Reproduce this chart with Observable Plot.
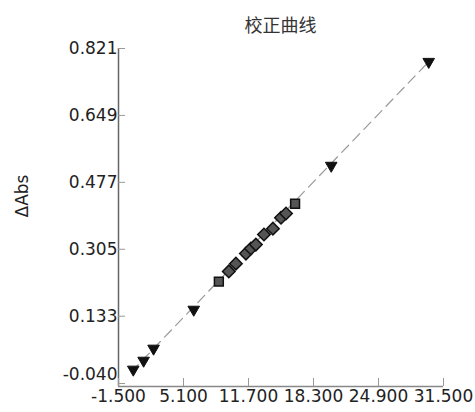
<!DOCTYPE html>
<html>
<head>
<meta charset="utf-8">
<script src="https://cdn.jsdelivr.net/npm/d3@7"></script>
<script src="https://cdn.jsdelivr.net/npm/@observablehq/plot@0.6"></script>
<style>
  html, body { margin: 0; padding: 0; background: #fff; }
  #wrap { width: 475px; height: 412px; position: relative; overflow: hidden; }
  #title { height: 36px; box-sizing: border-box; padding-top: 13px; margin-left: 118px; width: 325px;
           text-align: center; font: 18px/22px "Noto Sans CJK SC", sans-serif; color: #333; }
</style>
</head>
<body>
<div id="wrap">
  <div id="title"></div>
  <div id="chart"></div>
</div>
<script>
const title = "校正曲线";
const yLabel = "ΔAbs";
const xTicks = [-1.5, 5.1, 11.7, 18.3, 24.9, 31.5];
const yTicks = [-0.040, 0.133, 0.305, 0.477, 0.649, 0.821];
const yAxisBottom = -0.0477;

// calibration standards (down triangles)
const triX = [0.0, 1.05, 2.06, 6.14, 20.1, 30.0];
const triY = [-0.004, 0.019, 0.050, 0.150, 0.520, 0.787];

// sample cluster (squares / rotated squares)
const sqX = [8.69, 9.70, 10.42, 11.44, 11.94, 12.45, 13.27, 14.18, 15.0, 15.51, 16.43];
const sqY = [0.222, 0.248, 0.268, 0.294, 0.307, 0.317, 0.343, 0.358, 0.386, 0.397, 0.422];
const sqKind = ["square", "diamond", "diamond", "diamond", "diamond", "diamond", "diamond", "diamond", "diamond", "diamond", "square"];

// fitted line endpoints
const fitX = [-0.2, 30.0];
const fitY = [-0.010, 0.787];

document.getElementById("title").textContent = title;

const tri = triX.map((x, i) => ({x, y: triY[i]}));
const sq = sqX.map((x, i) => ({x, y: sqY[i], kind: sqKind[i]}));
const fit = fitX.map((x, i) => ({x, y: fitY[i]}));

const fmt = d => d3.format(".3f")(d).replace("\u2212", "-");

const chart = Plot.plot({
  width: 475,
  height: 376,
  marginLeft: 118,
  marginRight: 32,
  marginTop: 12,
  marginBottom: 26,
  style: {fontFamily: "DejaVu Sans", fontSize: "17px", color: "#222", background: "#fff"},
  x: {domain: [xTicks[0], xTicks[xTicks.length - 1]], axis: null},
  y: {domain: [yAxisBottom, yTicks[yTicks.length - 1]], axis: null},
  marks: [
    Plot.ruleX([xTicks[0]], {y1: yAxisBottom, y2: yTicks[yTicks.length - 1], stroke: "#666", strokeWidth: 1.5}),
    Plot.ruleY([yAxisBottom], {x1: xTicks[0], x2: xTicks[xTicks.length - 1], stroke: "#888", strokeWidth: 1.5}),
    Plot.axisX(xTicks, {tickSize: -8, tickFormat: () => "", stroke: "#999", label: null}),
    Plot.axisX(xTicks, {tickSize: 0, tickPadding: 3, tickFormat: fmt, fill: "#222", fontSize: 17, label: null}),
    Plot.axisY(yTicks, {tickSize: -7, tickFormat: () => "", stroke: "#999", label: null}),
    Plot.axisY(yTicks.slice(1), {tickSize: 0, tickPadding: 1, tickFormat: fmt, fill: "#222", fontSize: 17, label: null}),
    Plot.axisY(yTicks.slice(0, 1), {tickSize: 0, tickPadding: 1, dy: -9, tickFormat: fmt, fill: "#222", fontSize: 17, label: null}),
    Plot.text([yLabel], {text: d => d, frameAnchor: "left", dx: -96, rotate: -90, fontSize: 17, fill: "#222"}),
    Plot.line(fit, {x: "x", y: "y", stroke: "#999", strokeWidth: 1.2, strokeDasharray: "10,6"}),
    Plot.dot(sq, {x: "x", y: "y", symbol: "square", r: 5, rotate: d => d.kind === "diamond" ? 45 : 0,
                  fill: "#555", stroke: "#111", strokeWidth: 1.5}),
    Plot.dot(tri, {x: "x", y: "y", symbol: "triangle", r: 4.3, rotate: 180, fill: "#111", stroke: "#111", strokeWidth: 1})
  ]
});
document.getElementById("chart").appendChild(chart);
</script>
</body>
</html>
